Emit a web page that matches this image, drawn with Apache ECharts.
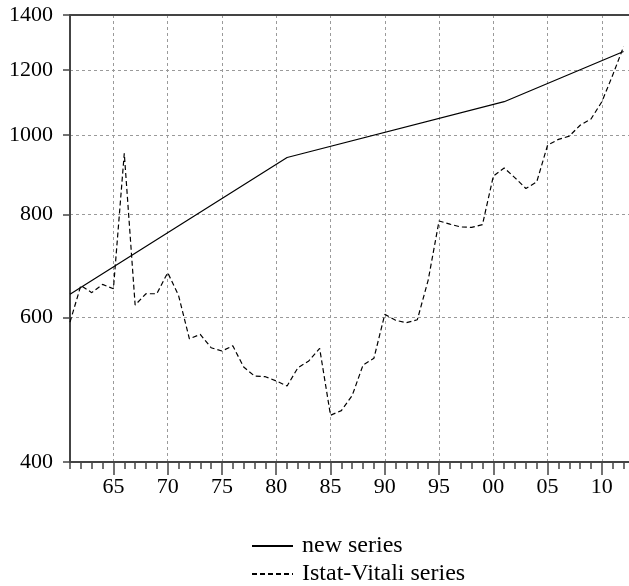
<!DOCTYPE html>
<html><head><meta charset="utf-8">
<script src="https://cdn.jsdelivr.net/npm/echarts@6/dist/echarts.min.js"></script>
<style>html,body{margin:0;padding:0;background:#fff}#c{width:629px;height:586px}</style>
</head><body><div id="c"></div>
<script>
// ---- data ----
const years = [1961,1962,1963,1964,1965,1966,1967,1968,1969,1970,1971,1972,1973,1974,1975,1976,1977,1978,1979,1980,
  1981,1982,1983,1984,1985,1986,1987,1988,1989,1990,1991,1992,1993,1994,1995,1996,1997,1998,1999,2000,
  2001,2002,2003,2004,2005,2006,2007,2008,2009,2010,2011,2012];
const istatValues = [592,656,643,658,650,950,621,641,641,680,638,565,572,551,546,554,522,509,508,502,
  495,521,531,550,456,462,482,525,535,605,595,591,596,666,786,779,773,772,778,891,
  912,887,861,877,972,988,997,1028,1046,1098,1183,1281];
const newSeriesYears = [1961,1981,2001,2012];
const newSeriesValues = [640,939,1098,1264];
const yTickValues = [400,600,800,1000,1200,1400];
const xLabelYears = [1965,1970,1975,1980,1985,1990,1995,2000,2005,2010];
const xMinorYears = years;
const seriesNames = ['new series','Istat-Vitali series'];

const FONT = 'Liberation Serif';
const axisColor = '#444';
const gridStyle = {color:'#9a9a9a', type:[3,3], width:1};
const gridRect = {left:70, right:0, top:15, height:447, containLabel:false};
const legendCommon = {
  orient:'horizontal', left:251, padding:0, itemWidth:41, itemHeight:14,
  itemStyle:{opacity:0, borderWidth:0},
  textStyle:{fontSize:24, fontFamily:FONT, color:'#000', lineHeight:24, padding:[0,0,0,4]}
};

const chart = echarts.init(document.getElementById('c'), null, {renderer:'canvas'});
chart.setOption({
  animation:false,
  backgroundColor:'#fff',
  grid:[Object.assign({}, gridRect), Object.assign({}, gridRect)],
  xAxis:[
    {
      type:'value', gridIndex:0, min:1961, max:2012.5, position:'bottom',
      axisLine:{show:true, onZero:false, lineStyle:{color:axisColor, width:2}},
      axisTick:{show:true, customValues:xMinorYears, length:7, lineStyle:{color:axisColor, width:1.5}},
      axisLabel:{show:false}, splitLine:{show:false}
    },
    {
      type:'value', gridIndex:0, min:1961, max:2012.5, position:'top',
      axisLine:{show:true, onZero:false, lineStyle:{color:axisColor, width:2}},
      axisTick:{show:false}, axisLabel:{show:false}, splitLine:{show:false}
    },
    {
      type:'value', gridIndex:1, min:1961, max:2012.5, position:'bottom',
      axisLine:{show:false, onZero:false},
      axisTick:{show:true, customValues:xLabelYears, length:13, lineStyle:{color:axisColor, width:1.5}},
      axisLabel:{show:true, customValues:xLabelYears, margin:14, fontSize:22, fontFamily:FONT, color:'#000',
        formatter:v => String(Math.round(v) % 100).padStart(2,'0')},
      splitLine:{show:true, lineStyle:gridStyle}
    }
  ],
  yAxis:[
    {
      type:'log', gridIndex:0, logBase:10, min:400, max:1400,
      axisLine:{show:true, onZero:false, lineStyle:{color:axisColor, width:2}},
      axisTick:{show:true, customValues:yTickValues, length:7, lineStyle:{color:axisColor, width:1.5}},
      axisLabel:{show:true, customValues:yTickValues, margin:17, fontSize:22, fontFamily:FONT, color:'#000',
        formatter:v => String(Math.round(v))},
      splitLine:{show:true, lineStyle:gridStyle},
      minorTick:{show:false}, minorSplitLine:{show:false}
    },
    { type:'value', gridIndex:1, show:false, min:0, max:1 }
  ],
  legend:[
    Object.assign({}, legendCommon, {top:534, data:[seriesNames[0]]}),
    Object.assign({}, legendCommon, {top:562, data:[seriesNames[1]]})
  ],
  series:[
    {
      name:seriesNames[0], type:'line', xAxisIndex:0, yAxisIndex:0, symbol:'none', silent:true,
      lineStyle:{color:'#000', width:1.2, type:'solid'},
      itemStyle:{color:'#000'},
      data:newSeriesYears.map((y,i)=>[y,newSeriesValues[i]])
    },
    {
      name:seriesNames[1], type:'line', xAxisIndex:0, yAxisIndex:0, symbol:'none', silent:true,
      lineStyle:{color:'#000', width:1.2, type:[5,3]},
      itemStyle:{color:'#000'},
      data:years.map((y,i)=>[y,istatValues[i]])
    }
  ]
});
</script></body></html>
